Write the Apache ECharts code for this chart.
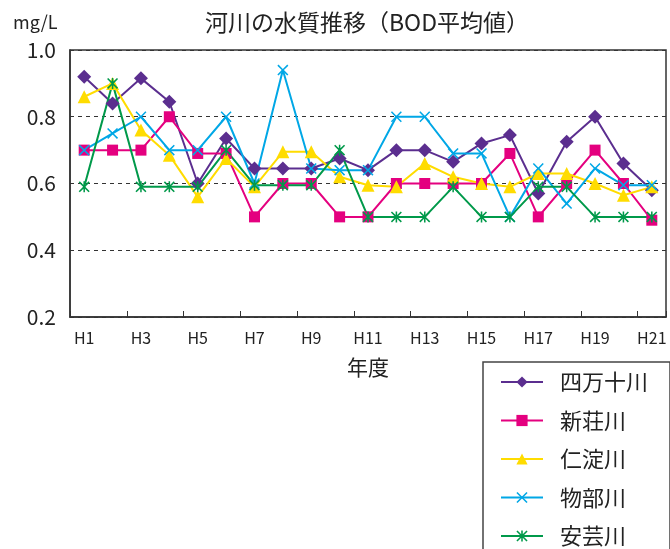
<!DOCTYPE html>
<html>
<head>
<meta charset="utf-8">
<script src="https://cdn.jsdelivr.net/npm/echarts@6/dist/echarts.min.js"></script>
<style>
  html, body { margin: 0; padding: 0; background: #fff; }
  #main { width: 670px; height: 549px; }
</style>
</head>
<body>
<div id="main"></div>
<script>
// 年度
var years = ['H1','H2','H3','H4','H5','H6','H7','H8','H9','H10','H11','H12','H13','H14','H15','H16','H17','H18','H19','H20','H21']
// BOD平均値 (mg/L)
var shimanto = [0.92,0.84,0.915,0.845,0.60,0.735,0.645,0.645,0.645,0.675,0.64,0.70,0.70,0.665,0.72,0.745,0.57,0.725,0.80,0.66,0.58]
var shinjo   = [0.70,0.70,0.70,0.80,0.69,0.69,0.50,0.60,0.60,0.50,0.50,0.60,0.60,0.60,0.60,0.69,0.50,0.60,0.70,0.60,0.49]
var niyodo   = [0.86,0.90,0.76,0.685,0.56,0.675,0.59,0.695,0.695,0.62,0.595,0.59,0.66,0.62,0.60,0.59,0.63,0.63,0.60,0.565,0.59]
var monobe   = [0.70,0.75,0.80,0.70,0.70,0.80,0.60,0.94,0.645,0.64,0.64,0.80,0.80,0.69,0.69,0.50,0.645,0.54,0.645,0.595,0.595]
var aki      = [0.59,0.90,0.59,0.59,0.59,0.70,0.595,0.595,0.595,0.70,0.50,0.50,0.50,0.59,0.50,0.50,0.59,0.59,0.50,0.50,0.50]
var yTicks = [0.2, 0.4, 0.6, 0.8, 1.0]

var FONT = '"Noto Sans CJK JP", "Noto Sans", sans-serif'
var crossPath = 'path://M1,0L5,4L9,0L10,1L6,5L10,9L9,10L5,6L1,10L0,9L4,5L0,1Z'
var starPath = 'path://M1,0L5,4L9,0L10,1L6,5L10,9L9,10L5,6L1,10L0,9L4,5L0,1ZM4.3,0L5.7,0L5.7,10L4.3,10Z'

function line(name, data, color, symbol, size) {
  return {
    name: name,
    type: 'line',
    data: data,
    symbol: symbol,
    symbolSize: size,
    color: color,
    lineStyle: { width: 2, color: color },
    itemStyle: { color: color },
    emphasis: { disabled: true }
  }
}

var chart = echarts.init(document.getElementById('main'))
chart.setOption({
  animation: false,
  textStyle: { fontFamily: FONT },
  title: [{
    text: '河川の水質推移（BOD平均値）',
    left: 200,
    top: 6,
    textStyle: { fontFamily: FONT, fontSize: 23, fontWeight: 'normal', color: '#222' }
  }, {
    text: 'mg/L',
    left: 8,
    top: 8,
    textStyle: { fontFamily: FONT, fontSize: 18, fontWeight: 'normal', color: '#222' }
  }],
  grid: {
    left: 70, right: 4, top: 50, bottom: 232,
    show: true, borderColor: '#333', borderWidth: 1.5
  },
  legend: {
    orient: 'vertical',
    left: 483,
    top: 362,
    height: 240,
    padding: [9, 22, 20, 17],
    itemWidth: 42,
    itemHeight: 14,
    itemGap: 16.5,
    borderColor: '#444',
    borderWidth: 1.5,
    textStyle: { fontFamily: FONT, fontSize: 22, color: '#222', padding: [0, 0, 0, 12] },
    data: ['四万十川', '新荘川', '仁淀川', '物部川', '安芸川']
  },
  xAxis: {
    type: 'category',
    data: years,
    name: '年度',
    nameLocation: 'middle',
    nameGap: 40,
    nameTextStyle: { fontFamily: FONT, fontSize: 21, color: '#222' },
    axisLine: { lineStyle: { color: '#333', width: 1.5 } },
    axisTick: { show: true, inside: true, length: 6, lineStyle: { color: '#333', width: 1 } },
    axisLabel: { interval: 1, margin: 13, fontSize: 16, color: '#222', fontFamily: FONT },
    splitLine: { show: false }
  },
  yAxis: {
    type: 'value',
    min: yTicks[0],
    max: yTicks[yTicks.length - 1],
    interval: 0.2,
    axisLine: { show: true, lineStyle: { color: '#333', width: 1.5 } },
    axisTick: { show: false },
    axisLabel: {
      margin: 14, fontSize: 21, color: '#222', fontFamily: FONT,
      formatter: function (v) { return v.toFixed(1) }
    },
    splitLine: { show: true, lineStyle: { color: '#333', type: [4, 4], width: 1 } }
  },
  series: [
    line('四万十川', shimanto, '#5b2e8f', 'diamond', 14),
    line('新荘川', shinjo, '#e4007f', 'rect', 11),
    line('仁淀川', niyodo, '#ffdc00', 'triangle', 13),
    line('物部川', monobe, '#00a7e6', crossPath, 11),
    line('安芸川', aki, '#00994a', starPath, 11)
  ]
})
</script>
</body>
</html>
